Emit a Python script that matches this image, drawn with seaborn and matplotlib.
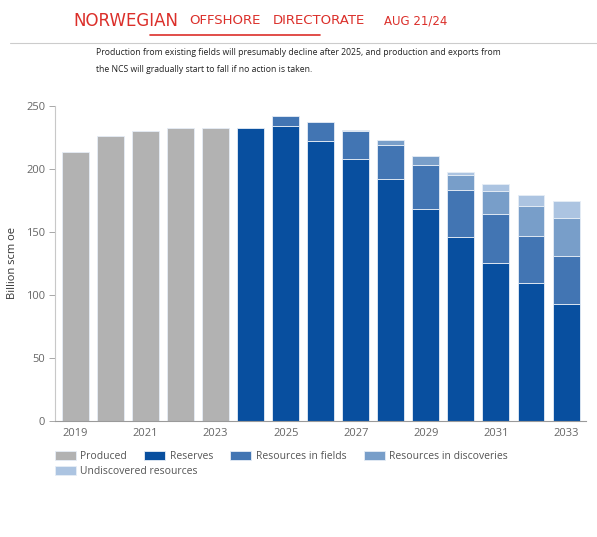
import numpy as np
import pandas as pd
import seaborn as sns
import matplotlib.pyplot as plt

# Data (billion scm oe)
years = ["2019", "2020", "2021", "2022", "2023", "2024", "2025", "2026",
         "2027", "2028", "2029", "2030", "2031", "2032", "2033"]
produced = [213, 226, 230, 232, 232, 0, 0, 0, 0, 0, 0, 0, 0, 0, 0]
reserves = [0, 0, 0, 0, 0, 232, 234, 222, 208, 192, 168, 146, 125, 109, 93]
resources_fields = [0, 0, 0, 0, 0, 0, 8, 15, 22, 27, 35, 37, 39, 37.5, 37.5]
resources_discoveries = [0, 0, 0, 0, 0, 0, 0, 0, 0.6, 4, 7, 12, 18, 23.5, 30.5]
undiscovered = [0, 0, 0, 0, 0, 0, 0, 0, 0, 0, 0, 2.5, 5.5, 8.8, 13]

series_names = ["Produced", "Reserves", "Resources in fields",
                "Resources in discoveries", "Undiscovered resources"]
series_colors = ["#b2b2b2", "#084f9f", "#4275b3", "#789ec9", "#acc4e1"]
y_ticks = [0, 50, 100, 150, 200, 250]
x_tick_labels = ["2019", "2021", "2023", "2025", "2027", "2029", "2031", "2033"]

title_text = ("Production from existing fields will presumably decline after 2025, and production and exports from\n"
              "the NCS will gradually start to fall if no action is taken.")
note_words = ["NORWEGIAN", "OFFSHORE", "DIRECTORATE", "AUG 21/24"]
note_centers = [126, 225, 319, 416]  # pixel x of each handwritten word
note_sizes = [12, 9.5, 9.5, 8.5]

sns.set_style("white")
plt.rcParams["font.family"] = ["Open Sans", "DejaVu Sans"]

fig = plt.figure(figsize=(5.97, 5.37), dpi=100)
ax = fig.add_axes([0.0921, 0.216, 0.8895, 0.5875])

df = pd.DataFrame({"year": years, "Produced": produced, "Reserves": reserves,
                   "Resources in fields": resources_fields,
                   "Resources in discoveries": resources_discoveries,
                   "Undiscovered resources": undiscovered})

base = np.zeros(len(years))
for name, col in zip(series_names, series_colors):
    vals = df[name].to_numpy(dtype=float)
    mask = vals > 0
    sns.barplot(x=df["year"][mask], y=vals[mask], order=years, bottom=base[mask],
                color=col, saturation=1, width=0.77, errorbar=None,
                edgecolor="#e6edf6", linewidth=0.6, label=name, ax=ax)
    base += vals

ax.set_xlim(-0.586, 14.57)
ax.set_ylim(0, 250)
ax.set_yticks(y_ticks)
ax.set_xticks([years.index(t) for t in x_tick_labels])
ax.set_xticklabels(x_tick_labels)
ax.set_xlabel("")
ax.set_ylabel("Billion scm oe", fontsize=8, color="#333333")
ax.yaxis.set_label_coords(-0.069, 0.5)
ax.tick_params(axis="y", length=4, width=0.6, color="#9a9a9a", labelsize=8,
               labelcolor="#666666", pad=3, left=True)
ax.tick_params(axis="x", length=0, labelsize=8, labelcolor="#666666", pad=5)
for s in ["top", "right"]:
    ax.spines[s].set_visible(False)
ax.spines["left"].set_color("#c8c8c8")
ax.spines["left"].set_linewidth(0.8)
ax.spines["bottom"].set_color("#9a9a9a")
ax.spines["bottom"].set_linewidth(0.8)

# legend flows left to right, wrapping the last entry to a second row
handles, labels = ax.get_legend_handles_labels()
leg_kw = dict(loc="upper left", bbox_transform=fig.transFigure, frameon=False,
              fontsize=7.5, handlelength=2.0, handleheight=1.0,
              handletextpad=0.45, columnspacing=1.65, borderpad=0, borderaxespad=0)
leg1 = ax.legend(handles[:4], labels[:4], ncol=4,
                 bbox_to_anchor=(0.092, 0.161), **leg_kw)
ax.add_artist(leg1)
leg2 = ax.legend(handles[4:], labels[4:], ncol=1,
                 bbox_to_anchor=(0.092, 0.132), **leg_kw)
for leg in (leg1, leg2):
    for t in leg.get_texts():
        t.set_color("#555555")

# header: rule, caption and handwritten-style note
fig.add_artist(plt.Line2D([10 / 597, 1.0], [1 - 43 / 537] * 2,
                          transform=fig.transFigure, color="#cccccc", lw=0.8))
fig.text(96 / 597, 1 - 48 / 537, title_text, fontsize=6.2, color="#222222",
         va="top", ha="left", linespacing=2.1)
for word, cx, fs in zip(note_words, note_centers, note_sizes):
    fig.text(cx / 597, 1 - 21 / 537, word, fontsize=fs, color="#db2f2a",
             va="center", ha="center",
             family=["Liberation Sans Narrow", "DejaVu Sans"])
fig.add_artist(plt.Line2D([150 / 597, 320 / 597], [1 - 35 / 537] * 2,
                          transform=fig.transFigure, color="#db2f2a", lw=1.2))

fig.savefig("out.png", dpi=100)
